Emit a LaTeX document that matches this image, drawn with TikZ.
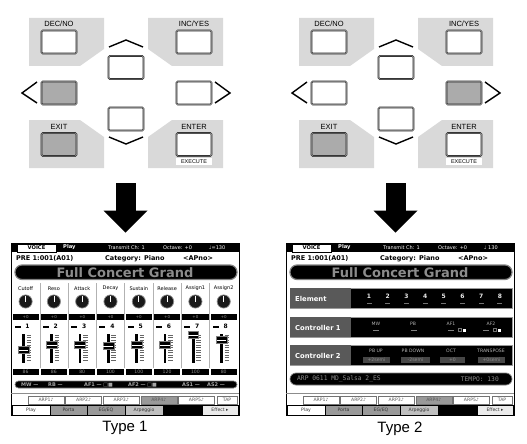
\documentclass[tikz,border=0pt]{standalone}
\usepackage{fontspec}
\setmainfont{Liberation Sans}
\newfontfamily\lcdfont{DejaVu Sans}
\newfontfamily\lcdmono{DejaVu Sans Mono}
\usetikzlibrary{arrows.meta,positioning}

\begin{document}
\begin{tikzpicture}
    [
      x=1pt, y=-1pt,
      pad/.style={fill=black!15},
      key/.style={draw=black!85, double=black!35, double distance=0.5pt, line width=0.55pt, rounded corners=1.2pt, minimum width=35pt, minimum height=23pt, inner sep=0pt},
      keylabel/.style={font=\fontsize{7.5}{8}\selectfont, inner sep=0pt},
      caret/.style={line width=1.4pt, line join=miter},
      bigarrow/.style={line width=20pt, -{Triangle[width=44pt, length=22pt, line width=0pt]}, shorten <=15pt, shorten >=10pt},
      screen/.style={draw, fill=white, line width=0.8pt, minimum width=228pt, minimum height=172pt, inner sep=0pt},
      caption/.style={font=\fontsize{15}{15}\selectfont, inner sep=0pt},
      lcd/.style={font=\lcdfont\fontsize{4.6}{5}\selectfont, inner sep=0pt},
      lcdbold/.style={font=\lcdfont\bfseries\fontsize{6.5}{7}\selectfont, inner sep=0pt},
      dimtext/.style={lcd, text=black!45},
      arptab/.style={lcd, draw=black!55, text=black!65, minimum height=8pt},
      pagetab/.style={lcd, draw=black, line width=0.5pt, text=black!80, minimum height=10pt},
      rowbox/.style={fill=black, draw=black!40, line width=0.5pt},
      bar/.style={fill=black, draw=black!50, line width=0.7pt},
    ]

    \useasboundingbox (0,0) rectangle (527,444);

    % key pads
    \foreach \p/\dx/\lfill/\rfill in {a/0/black!33/white, b/270/white/black!33}
    {
      \begin{scope}[xshift=\dx]
        \fill[pad] (29,18) -- (104,18) -- (104,49) -- (80,66) -- (29,66) -- cycle;
        \fill[pad] (148,18) -- (223,18) -- (223,66) -- (172,66) -- (148,49) -- cycle;
        \fill[pad] (29,120) -- (80,120) -- (104,137) -- (104,168) -- (29,168) -- cycle;
        \fill[pad] (148,137) -- (172,120) -- (223,120) -- (223,168) -- (148,168) -- cycle;

        \node (dec-\p) [key, fill=white] at (59,42) {};
        \node (inc-\p) [key, fill=white] at (194,42) {};
        \node (up-\p) [key, fill=white] at (126,67.5) {};
        \node (left-\p) [key, fill=\lfill] at (59,93) {};
        \node (right-\p) [key, fill=\rfill] at (194,93) {};
        \node (down-\p) [key, fill=white] at (126,119) {};
        \node (exit-\p) [key, fill=black!33] at (59,144.5) {};
        \node (enter-\p) [key, fill=white] at (194,144.5) {};

        \node (dec-label-\p) [keylabel, above=3pt of dec-\p] {DEC/NO};
        \node (inc-label-\p) [keylabel, above=3pt of inc-\p] {INC/YES};
        \node (exit-label-\p) [keylabel, above=3pt of exit-\p] {EXIT};
        \node (enter-label-\p) [keylabel, above=3pt of enter-\p] {ENTER};
        \node (execute-\p) [keylabel, fill=white, font=\fontsize{5.5}{6}\selectfont, minimum width=36pt, minimum height=7pt, below=1.5pt of enter-\p] {EXECUTE};

        \draw[caret] (109,47) -- (126,40) -- (143,47);
        \draw[caret] (109,137) -- (126,144) -- (143,137);
        \draw[caret] (37,82) -- (22,93) -- (37,103);
        \draw[caret] (215,82) -- (230,93) -- (215,103);

        \coordinate (keys-\p) at (125.5,168);
      \end{scope}
    }

    \node (screen-a) [screen] at (125,329) {};
    \node (screen-b) [screen] at (400,329) {};

    \draw[bigarrow] (keys-a) -- (keys-a |- screen-a.north);
    \draw[bigarrow] (keys-b) -- (keys-b |- screen-b.north);

    \node (type-a) [caption, below=6pt of screen-a] {Type 1};
    \node (type-b) [caption, below=6pt of screen-b] {Type 2};

    % parts both screens share
    \foreach \s/\sx/\tempo in {a/11/{♩=130}, b/286/{♩ 130}}
    {
      \begin{scope}[shift={(\sx,243)}]
        \fill (0,0) rectangle (228,9);
        \node (voice-\s) [lcd, font=\lcdfont\bfseries\fontsize{5.2}{5}\selectfont, draw, fill=white, minimum width=39pt, minimum height=8pt] at (25.5,4.8) {VOICE};
        \node [lcd, font=\lcdfont\bfseries\fontsize{5.2}{5}\selectfont, text=white, anchor=west] at (52,4.5) {Play};
        \node [lcd, font=\lcdfont\fontsize{5}{5}\selectfont, text=white, anchor=west] at (97,4.5) {Transmit Ch: 1};
        \node [lcd, font=\lcdfont\fontsize{5}{5}\selectfont, text=white, anchor=west] at (152,4.5) {Octave: +0};
        \node [lcd, font=\lcdfont\fontsize{5}{5}\selectfont, text=white, anchor=west] at (198,4.5) {\tempo};

        \node [lcdbold, anchor=west] at (5,15.5) {PRE 1:001(A01)};
        \node [lcdbold, anchor=west] at (94,15.5) {Category: Piano};
        \node [lcdbold, anchor=west] at (172,15.5) {<APno>};

        \draw[bar, line width=1.2pt, rounded corners=7pt] (4,22) rectangle (226,36.5);
        \node [font=\lcdfont\bfseries\fontsize{13}{13}\selectfont, text=black!45, inner sep=0pt] at (114,29.8) {Full Concert Grand};

        \draw[black!45, line width=0.8pt] (0,150) -- (228,150);
        \foreach \t/\c [count=\i from 0] in {ARP1♪/white, ARP2♪/white, ARP3♪/white, ARP4♪/black!40, ARP5♪/white}
          \node [arptab, fill=\c, minimum width=36pt] at (35+37.6*\i,157) {\t};
        \node [arptab, fill=white, minimum width=20pt] at (216,157) {TAP};

        \foreach \t/\x/\w/\c in {Play/20/38/white, Porta/57.5/37/black!40, {EG/EQ}/95/38/black!40, Arpeggio/133/38/black!25, {}/171.5/39/black, {Effect ▸}/209/36/black!8}
          \node [pagetab, fill=\c, minimum width=\w] at (\x,167) {\t};
        \draw[line width=1.5pt] (0.8,162) -- (0.8,172);
      \end{scope}
    }

    % Type 1: knobs and sliders
    \begin{scope}[shift={(11,243)}]
      \foreach \i in {1,...,7}
        \draw[black!30, line width=0.5pt] ({0.5+28.3*\i},40) -- ({0.5+28.3*\i},125);
      \foreach \name/\capy/\val [count=\i from 0] in {Cutoff/107/86, Reso/102/86, Attack/102/80, Decay/103/100, Sustain/102/100, Release/102/120, Assign1/92/100, Assign2/97/80}
      {
        \pgfmathsetmacro\xl{0.5+28.3*\i}
        \pgfmathsetmacro\xc{\xl+14.1}
        \pgfmathtruncatemacro\num{\i+1}
        \node [lcd, font=\lcdfont\fontsize{5}{5}\selectfont] at (\xc,45.5) {\name};
        \filldraw[fill=black!90, draw=black!45, line width=0.7pt] (\xc,58.5) circle (6.6);
        \draw[white, line width=0.8pt] (\xc,58.5) -- (\xc,53);
        \fill (\xl+1,71) rectangle (\xl+27.3,77);
        \node [dimtext, font=\lcdfont\fontsize{4}{4}\selectfont] at (\xc,74) {+0};
        \fill (\xl+3,82.5) rectangle (\xl+9,84.5);
        \node [lcdbold, font=\lcdfont\bfseries\fontsize{6}{6}\selectfont] at (\xl+16,83.5) {\num};
        \fill (\xl+10.5,91) rectangle (\xl+13.3,120);
        \foreach \k in {0,...,10}
          \draw[black!60, line width=0.35pt] (\xl+15,92+2.5*\k) -- (\xl+19.5,92+2.5*\k);
        \filldraw[fill=black, draw=black!50, line width=0.3pt] (\xl+6.5,\capy-3.5) rectangle (\xl+17.3,\capy+3.5);
        \draw[white, line width=0.6pt] (\xl+7,\capy) -- (\xl+16.8,\capy);
        \fill (\xl+1,126) rectangle (\xl+27.3,132);
        \node [dimtext] at (\xc,129) {\val};
      }
      \draw[bar, rounded corners=3.5pt] (4,138) rectangle (226,145);
      \foreach \t/\x in {MW —/10, RB —/37, AF1 — □■/73, AF2 — □■/117, AS1 —/171, AS2 —/196}
        \node [dimtext, text=black!35, font=\lcdfont\bfseries\fontsize{5}{5}\selectfont, anchor=west] at (\x,141.5) {\t};
    \end{scope}

    % Type 2: element and controller rows
    \begin{scope}[shift={(286,243)}]
      \foreach \name/\y in {Element/45, Controller 1/74, Controller 2/102}
      {
        \draw[rowbox] (4,\y) rectangle (226,\y+20.5);
        \fill[black!65] (4.3,\y+0.3) rectangle (65,\y+20.2);
        \node [lcdbold, font=\lcdfont\bfseries\fontsize{6.8}{7}\selectfont, text=white, anchor=west] at (9,\y+10.5) {\name};
      }
      \foreach \n [count=\i from 0] in {1,...,8}
      {
        \node [lcdbold, font=\lcdfont\bfseries\fontsize{6}{6}\selectfont, text=black!8] at (83+18.7*\i,53) {\n};
        \fill[black!55] (80.5+18.7*\i,59.5) rectangle (85.5+18.7*\i,61);
      }
      \foreach \t/\x in {MW/90, PB/127, AF1/165, AF2/205}
        \node [lcd, text=black!30, font=\lcdfont\fontsize{4.6}{4}\selectfont] at (\x,80.5) {\t};
      \foreach \xa in {87, 125, 162, 197}
        \fill[black!50] (\xa,86.5) rectangle (\xa+6,88);
      \foreach \xa in {172, 207}
      {
        \draw[black!55, line width=0.4pt] (\xa,85.5) rectangle (\xa+3,88.5);
        \fill[white] (\xa+5,85.5) rectangle (\xa+8,88.5);
      }
      \foreach \t/\x in {PB UP/90, PB DOWN/127, OCT/165, TRANSPOSE/205}
        \node [lcd, text=black!30, font=\lcdfont\fontsize{4.6}{4}\selectfont] at (\x,107.5) {\t};
      \foreach \t/\x/\w in {+2semi/90.5/27, -2semi/129.5/29, +0/166.5/25, +0semi/205.5/27}
        \node [dimtext, fill=black!72, minimum width=\w, minimum height=6pt] at (\x,116.5) {\t};
      \draw[bar, rounded corners=6pt] (4,130) rectangle (226,142);
      \node [dimtext, font=\lcdmono\fontsize{6.3}{6}\selectfont, anchor=west] at (11,136.2) {ARP 0611 MD\_Salsa 2\_ES};
      \node [dimtext, font=\lcdmono\fontsize{6.3}{6}\selectfont, anchor=east] at (213,136.2) {TEMPO: 130};
    \end{scope}

\end{tikzpicture}
\end{document}
